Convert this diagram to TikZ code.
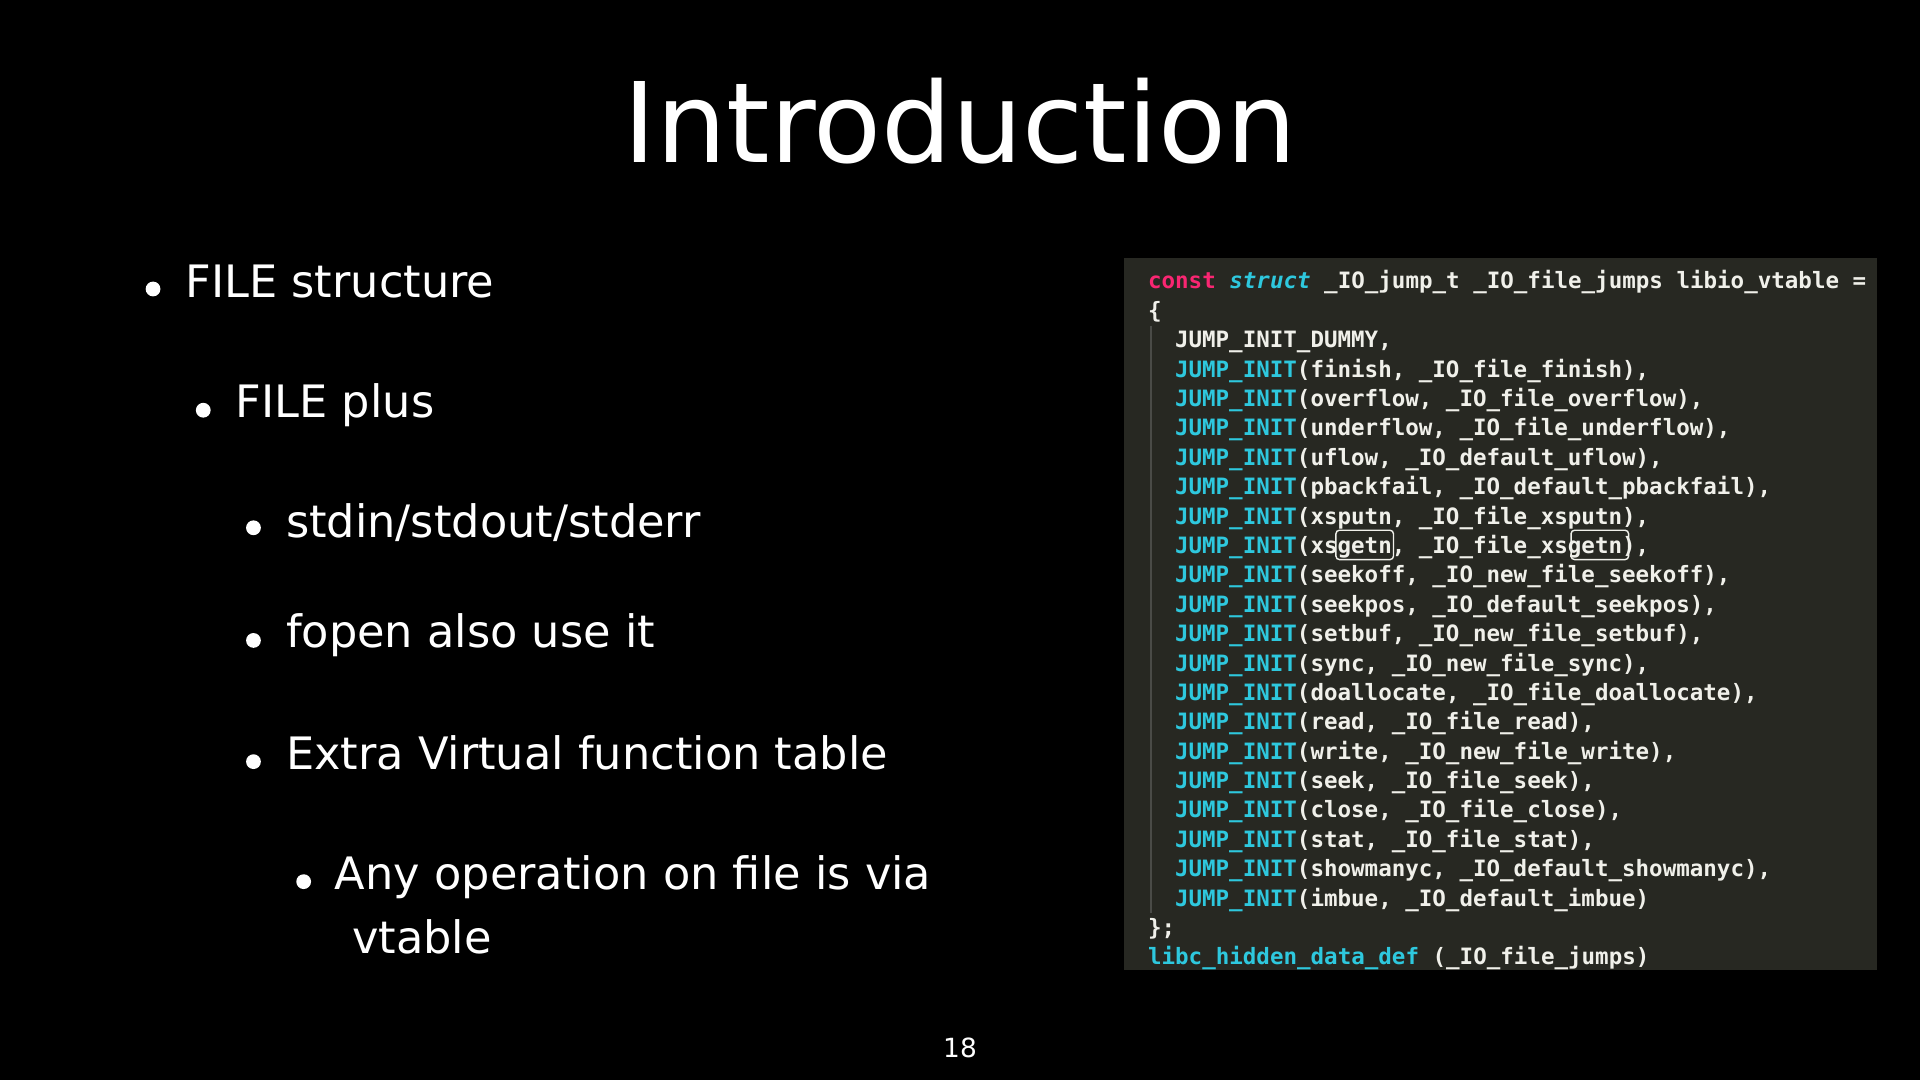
\documentclass[tikz,border=0pt]{standalone}
\usepackage{fontspec}
\setmainfont{DejaVu Sans}
\newfontfamily\codefont{DejaVu Sans Mono}
\definecolor{panel}{HTML}{272822}
\definecolor{kwpink}{HTML}{F92672}
\definecolor{kwcyan}{HTML}{2EC8DE}
\definecolor{codew}{HTML}{F0F0EA}
\newcommand{\ji}[1]{\textcolor{kwcyan}{JUMP\_INIT}(#1)}
\begin{document}
\begin{tikzpicture}[x=0.012245cm,y=-0.012245cm,
  bul/.style={anchor=base west,text=white,font=\fontsize{12.7}{15}\selectfont,inner sep=0},
  dot/.style={circle,fill=white,inner sep=0,minimum size=4.2pt},
  code/.style={anchor=base west,text=codew,font=\codefont\bfseries\fontsize{6.4}{7}\selectfont,inner sep=0}]
\fill[black] (0,0) rectangle (1568,882);
\useasboundingbox (0,0) rectangle (1568,882);
\node[text=white,font=\fontsize{31.6}{38}\selectfont,inner sep=0,anchor=base] (title) at (784,133) {Introduction};
% bullets
\node[dot] (d1) at (125,236) {}; \node[bul] (t1) at (151,243) {FILE structure};
\node[dot] (d2) at (166,335) {}; \node[bul] (t2) at (192,341) {FILE plus};
\node[dot] (d3) at (207,431) {}; \node[bul] (t3) at (233,439) {stdin/stdout/stderr};
\node[dot] (d4) at (207,523) {}; \node[bul] (t4) at (233,529) {fopen also use it};
\node[dot] (d5) at (207,622) {}; \node[bul] (t5) at (233,628) {Extra Virtual function table};
\node[dot] (d6) at (248,720) {}; \node[bul] (t6) at (273,726) {Any operation on file is via};
\node[bul] (t7) at (287,779) {vtable};
\node[text=white,font=\fontsize{7.5}{9}\selectfont,inner sep=0] (pg) at (784,856) {18};
% code panel
\fill[panel] (918,211) rectangle (1533,792);
\draw[gray!40!panel,line width=0.4pt] (940,266) -- (940,746);
\node[code] (c0) at (937,236) {\textcolor{kwpink}{const} \textcolor{kwcyan}{\itshape struct} \_IO\_jump\_t \_IO\_file\_jumps libio\_vtable =};
\node[code] (c1) at (937,260) {\{};
\node[code] (c2) at (959,284) {JUMP\_INIT\_DUMMY,};
\node[code] at (959,308) {\ji{finish, \_IO\_file\_finish},};
\node[code] at (959,332) {\ji{overflow, \_IO\_file\_overflow},};
\node[code] at (959,356) {\ji{underflow, \_IO\_file\_underflow},};
\node[code] at (959,380) {\ji{uflow, \_IO\_default\_uflow},};
\node[code] at (959,404) {\ji{pbackfail, \_IO\_default\_pbackfail},};
\node[code] at (959,428) {\ji{xsputn, \_IO\_file\_xsputn},};
\node[code] at (959,452) {\ji{xsgetn, \_IO\_file\_xsgetn},};
\node[code] at (959,476) {\ji{seekoff, \_IO\_new\_file\_seekoff},};
\node[code] at (959,500) {\ji{seekpos, \_IO\_default\_seekpos},};
\node[code] at (959,524) {\ji{setbuf, \_IO\_new\_file\_setbuf},};
\node[code] at (959,548) {\ji{sync, \_IO\_new\_file\_sync},};
\node[code] at (959,572) {\ji{doallocate, \_IO\_file\_doallocate},};
\node[code] at (959,596) {\ji{read, \_IO\_file\_read},};
\node[code] at (959,620) {\ji{write, \_IO\_new\_file\_write},};
\node[code] at (959,644) {\ji{seek, \_IO\_file\_seek},};
\node[code] at (959,668) {\ji{close, \_IO\_file\_close},};
\node[code] at (959,692) {\ji{stat, \_IO\_file\_stat},};
\node[code] at (959,716) {\ji{showmanyc, \_IO\_default\_showmanyc},};
\node[code] at (959,740) {\ji{imbue, \_IO\_default\_imbue}};
\node[code] at (937,764) {\};};
\node[code] at (937,788) {\textcolor{kwcyan}{libc\_hidden\_data\_def} (\_IO\_file\_jumps)};
\draw[codew,line width=0.4pt,rounded corners=1pt] (1091,433) rectangle (1138,457);
\draw[codew,line width=0.4pt,rounded corners=1pt] (1283,433) rectangle (1330,457);
\end{tikzpicture}
\end{document}
